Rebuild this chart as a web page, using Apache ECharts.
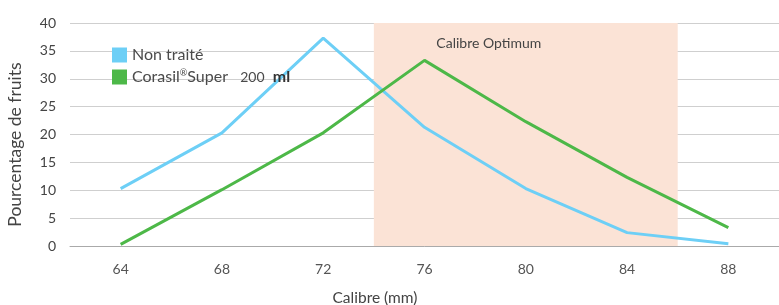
<!DOCTYPE html>
<html>
<head>
<meta charset="utf-8">
<script src="https://cdn.jsdelivr.net/npm/echarts@6/dist/echarts.min.js"></script>
<style>
  html, body { margin: 0; padding: 0; background: #fff; }
  #chart { width: 779px; height: 305px; }
</style>
</head>
<body>
<div id="chart"></div>
<script>
// calibres (mm)
const calibres = ['64', '68', '72', '76', '80', '84', '88'];
// pourcentage de fruits
const nonTraite = [10.3, 20.3, 37.3, 21.3, 10.3, 2.4, 0.4];
const corasil = [0.3, 10.1, 20.3, 33.3, 22.3, 12.3, 3.3];
// zone calibre optimum (bornes en mm)
const optimum = [74, 86];
const yTicks = [0, 5, 10, 15, 20, 25, 30, 35, 40];

const font = 'Lato, "Open Sans", sans-serif';
const myChart = echarts.init(document.getElementById('chart'));

myChart.setOption({
  animation: false,
  textStyle: { fontFamily: font },
  grid: { left: 70, right: 0, top: 23, bottom: 59, containLabel: false, outerBoundsMode: 'none' },
  legend: {
    left: 107,
    top: 42,
    orient: 'vertical',
    itemWidth: 15,
    itemHeight: 15,
    itemGap: 6,
    icon: 'rect',
    textStyle: {
      fontSize: 16,
      color: '#4a4a4a',
      fontFamily: font,
      rich: {
        sup: { fontSize: 9, color: '#4a4a4a', verticalAlign: 'top', padding: [0, 0, 6, 0] },
        n: { fontSize: 14, color: '#4a4a4a' },
        b: { fontSize: 16, color: '#333', fontWeight: 'bold' }
      }
    },
    formatter: function (name) {
      if (name === 'Corasil') return 'Corasil{sup|®}Super   {n|200}  {b|ml}';
      return name;
    },
    data: ['Non traité', 'Corasil']
  },
  xAxis: [
    {
      type: 'category',
      data: calibres,
      boundaryGap: true,
      name: 'Calibre (mm)',
      nameLocation: 'middle',
      nameGap: 44,
      nameTextStyle: { fontSize: 15.5, color: '#444', padding: [0, 0, 0, -99] },
      axisLine: { lineStyle: { color: '#aaa', width: 1 } },
      axisTick: { length: 5, lineStyle: { color: '#aaa' } },
      axisLabel: { fontSize: 14, color: '#555', margin: 16 }
    },
    {
      type: 'value',
      min: 62,
      max: 90,
      show: false
    }
  ],
  yAxis: {
    type: 'value',
    min: 0,
    max: 40,
    interval: 5,
    name: 'Pourcentage de fruits',
    nameLocation: 'middle',
    nameGap: 46,
    nameTextStyle: { fontSize: 17.5, color: '#444', padding: [0, 20, 0, 0] },
    axisLine: { show: false },
    axisTick: { show: false },
    axisLabel: {
      fontSize: 14,
      color: '#444',
      margin: 14,
      formatter: function (v) { return yTicks.indexOf(v) >= 0 ? v : ''; }
    },
    splitLine: { lineStyle: { color: '#cfcfcf', width: 1 } }
  },
  series: [
    {
      name: 'zone',
      type: 'line',
      xAxisIndex: 1,
      data: [],
      silent: true,
      z: 0,
      markArea: {
        silent: true,
        itemStyle: { color: '#fbe3d6' },
        label: {
          show: true,
          position: 'insideTop',
          offset: [-37, 8],
          fontSize: 14,
          color: '#444',
          fontFamily: font
        },
        data: [[
          { name: 'Calibre Optimum', xAxis: optimum[0] },
          { xAxis: optimum[1] }
        ]]
      }
    },
    {
      name: 'Non traité',
      type: 'line',
      data: nonTraite,
      showSymbol: false,
      color: '#6dcff6',
      lineStyle: { width: 3, color: '#6dcff6' },
      z: 3
    },
    {
      name: 'Corasil',
      type: 'line',
      data: corasil,
      showSymbol: false,
      color: '#4db848',
      lineStyle: { width: 3, color: '#4db848' },
      z: 4
    }
  ]
});
</script>
</body>
</html>
